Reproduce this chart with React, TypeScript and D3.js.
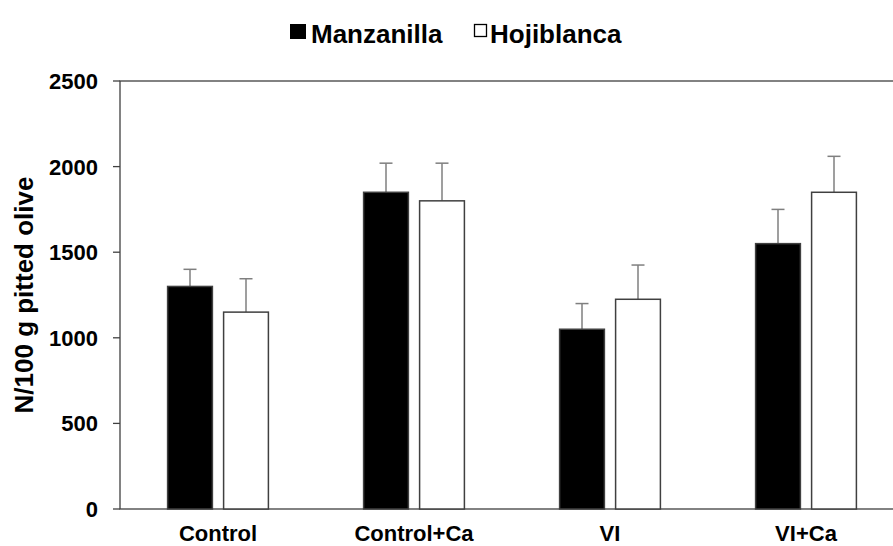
import React from "react";
import * as d3 from "d3";

// treatments and the two olive varieties
const categories = ["Control", "Control+Ca", "VI", "VI+Ca"];
const series = ["Manzanilla", "Hojiblanca"];
const manzanilla = [1300, 1850, 1050, 1550];
const hojiblanca = [1150, 1800, 1225, 1850];
const manzanillaErr = [100, 170, 150, 200];
const hojiblancaErr = [195, 220, 200, 210];
const yTicks = [0, 500, 1000, 1500, 2000, 2500];

const fills = ["#000000", "#ffffff"];

export default function App() {
  const width = 893,
    height = 546;
  const margin = { top: 81, right: -11, bottom: 37, left: 120 };
  const innerW = width - margin.left - margin.right;
  const innerH = height - margin.top - margin.bottom;

  const x0 = d3.scaleBand().domain(categories).range([0, innerW]);
  const x1 = d3
    .scaleBand()
    .domain(series)
    .range([0, x0.bandwidth()])
    .paddingInner(0.2)
    .paddingOuter(0.85);
  const y = d3.scaleLinear().domain([0, 2500]).range([innerH, 0]);

  const values = [manzanilla, hojiblanca];
  const errs = [manzanillaErr, hojiblancaErr];
  const font = "'Liberation Sans', Arial, sans-serif";

  return (
    <svg
      width={width}
      height={height}
      style={{ position: "absolute", left: 0, top: 0, background: "#fff" }}
      fontFamily={font}
      fontWeight="bold"
    >
      {/* legend */}
      <g>
        <rect x={290} y={24} width={16} height={15} fill="#000" />
        <text x={311} y={43} fontSize={26}>
          {series[0]}
        </text>
        <rect x={474.5} y={24.5} width={12} height={12} fill="#fff" stroke="#000" strokeWidth={1.3} />
        <text x={490} y={43} fontSize={26}>
          {series[1]}
        </text>
      </g>

      <g transform={`translate(${margin.left},${margin.top})`}>
        {/* frame */}
        <rect x={0} y={0} width={innerW} height={innerH} fill="none" stroke="#404040" strokeWidth={1.3} />
        {/* y ticks */}
        {yTicks.map((t) => (
          <g key={t} transform={`translate(0,${y(t)})`}>
            <line x1={-7} x2={0} stroke="#404040" strokeWidth={1.3} />
            <text x={-22} dy="0.36em" textAnchor="end" fontSize={22}>
              {t}
            </text>
          </g>
        ))}
        {/* bars */}
        {categories.map((c, i) => (
          <g key={c} transform={`translate(${x0(c)},0)`}>
            {series.map((s, j) => {
              const bx = x1(s)!;
              const bw = x1.bandwidth();
              const v = values[j][i];
              const e = errs[j][i];
              const cx = bx + bw / 2;
              return (
                <g key={s}>
                  <line x1={cx} x2={cx} y1={y(v)} y2={y(v + e)} stroke="#7f7f7f" strokeWidth={1.5} />
                  <line x1={cx - 6.5} x2={cx + 6.5} y1={y(v + e)} y2={y(v + e)} stroke="#7f7f7f" strokeWidth={1.5} />
                  <rect
                    x={bx}
                    y={y(v)}
                    width={bw}
                    height={innerH - y(v)}
                    fill={fills[j]}
                    stroke="#404040"
                    strokeWidth={1.5}
                  />
                </g>
              );
            })}
            <text x={x0.bandwidth() / 2} y={innerH + 32} textAnchor="middle" fontSize={22}>
              {c}
            </text>
          </g>
        ))}
      </g>

      {/* y axis title */}
      <text
        transform={`translate(33,${margin.top + innerH / 2}) rotate(-90)`}
        textAnchor="middle"
        fontSize={26}
      >
        N/100 g pitted olive
      </text>
    </svg>
  );
}
